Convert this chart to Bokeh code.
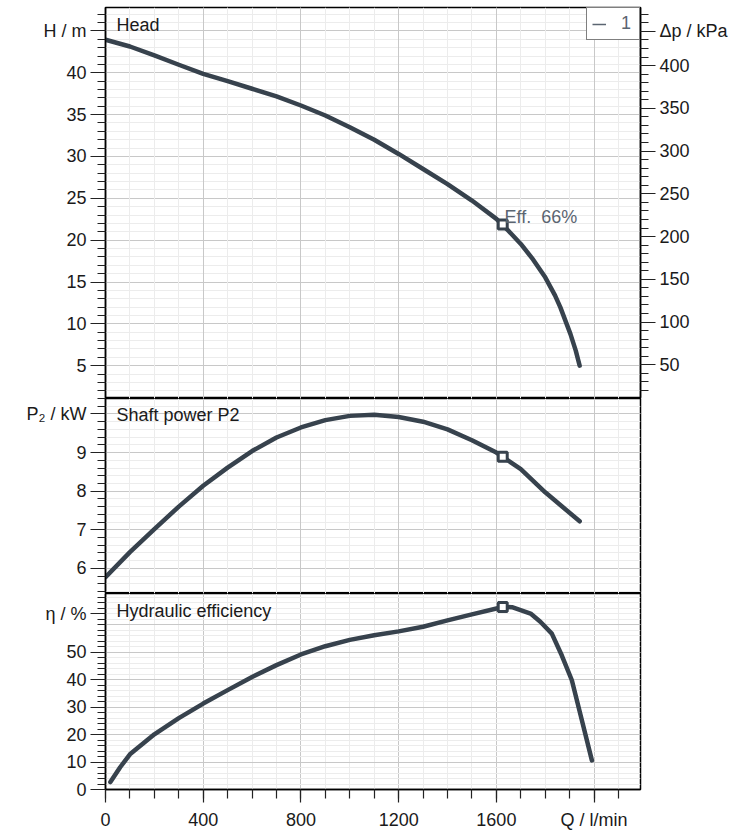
from bokeh.plotting import figure
from bokeh.models import Range1d, LinearAxis, FixedTicker, Grid, Label, Legend, LegendItem
from bokeh.layouts import column
from bokeh.embed import file_html
from bokeh.resources import INLINE

# ---------------- data ----------------
Q_head = [0, 100, 200, 300, 400, 500, 600, 700, 800, 900, 1000, 1100, 1200, 1300,
          1400, 1500, 1600, 1650, 1700, 1750, 1800, 1840, 1862, 1903, 1925, 1941]
H_head = [43.95, 43.14, 42.07, 40.96, 39.88, 39.0, 38.09, 37.17, 36.09, 34.9, 33.5,
          32.0, 30.3, 28.5, 26.7, 24.73, 22.54, 21.1, 19.55, 17.7, 15.56, 13.4, 11.97,
          8.8, 6.8, 5.0]

Q_power = [0, 100, 200, 300, 400, 500, 600, 700, 800, 900, 1000, 1100, 1200, 1300,
           1400, 1500, 1600, 1700, 1800, 1941]
P_power = [5.77, 6.42, 7.02, 7.60, 8.14, 8.61, 9.04, 9.39, 9.65, 9.84, 9.95, 9.98,
           9.92, 9.80, 9.60, 9.32, 9.00, 8.57, 7.97, 7.22]

Q_eff = [20, 60, 100, 200, 300, 400, 500, 600, 700, 800, 900, 1000, 1100, 1200, 1300,
         1400, 1500, 1626, 1664, 1740, 1780, 1827, 1868, 1909, 1950, 1991]
ETA = [2.7, 8.1, 12.8, 20.1, 26.0, 31.3, 36.2, 41.0, 45.3, 49.2, 52.2, 54.5, 56.2,
       57.6, 59.3, 61.6, 63.8, 66.5, 66.4, 64.1, 61.1, 56.8, 48.8, 39.8, 25.2, 10.6]

Q_bep = [1626]
H_bep = [21.86]
P_bep = [8.89]
ETA_bep = [66.5]
bep_label = "Eff.\u00a0 66%"
legend_label = "1"

KPA_PER_M = 9.79

X_MAJOR = [0, 400, 800, 1200, 1600, 2000]
X_MINOR = [100 * i for i in range(0, 22)]
X_LABELS = {2000: "Q / l/min"}
H_MAJOR = [5, 10, 15, 20, 25, 30, 35, 40, 45]
H_MINOR = list(range(1, 48))
H_LABELS = {45: "H / m"}
DP_MAJOR = [50, 100, 150, 200, 250, 300, 350, 400]
DP_MINOR = list(range(20, 470, 10))
DP_LABEL_AT = 440
DP_LABELS = {440: "Δp / kPa"}
P_MAJOR = [6, 7, 8, 9, 10]
P_MINOR = [round(5.4 + 0.2 * i, 1) for i in range(0, 26)]
P_LABELS = {10: "P₂ / kW"}
E_MAJOR = [0, 10, 20, 30, 40, 50, 60]
E_MINOR = list(range(0, 72, 2))
E_LABEL_AT = 64
E_LABELS = {64: "η / %"}

# ---------------- style ----------------
FONT = "Liberation Sans"
FS = "18px"
CURVE = "#37424d"
GRAYTXT = "#5b6571"
GRID_MAJ = "#c8c8c8"
GRID_MIN = "#ececec"
TXT = "#1a1a1a"

FRAME_LEFT = 105
FRAME_W = 535
X_END = 2190
SX = FRAME_W / X_END

x_range = Range1d(0, X_END)


def make_fig(frame_h, y_range, bottom_axis, top_border=0):
    p = figure(frame_width=FRAME_W, frame_height=frame_h, x_range=x_range, y_range=y_range,
               x_axis_location="below" if bottom_axis else None,
               y_axis_location="left", toolbar_location=None, output_backend="svg",
               min_border_left=FRAME_LEFT, min_border_right=105, min_border_top=top_border,
               min_border_bottom=0, title=None)
    p.outline_line_color = "black"
    p.outline_line_width = 1.5
    p.background_fill_color = "white"
    p.border_fill_color = "white"
    return p


def style_axis(ax, vertical=True):
    ax.axis_line_color = "black"
    ax.axis_line_width = 1.5
    ax.major_tick_line_color = "#222222"
    ax.minor_tick_line_color = "#222222"
    ax.major_tick_line_width = 1.2
    ax.minor_tick_line_width = 1.2
    ax.major_tick_in = 0
    ax.minor_tick_in = 0
    ax.major_tick_out = 15 if vertical else 13
    ax.minor_tick_out = 8 if vertical else 9
    ax.major_label_text_font = FONT
    ax.major_label_text_font_size = FS
    ax.major_label_text_color = TXT
    ax.major_label_standoff = 4 if vertical else 7


def style_grid(g):
    g.grid_line_color = GRID_MAJ
    g.grid_line_width = 1
    g.minor_grid_line_color = GRID_MIN
    g.minor_grid_line_width = 1


def add_xgrid(p):
    g = Grid(dimension=0, ticker=FixedTicker(ticks=X_MAJOR, minor_ticks=X_MINOR))
    style_grid(g)
    p.add_layout(g)


def label(p, x, y, text, color=TXT):
    p.add_layout(Label(x=x, y=y, text=text, text_font=FONT, text_font_size=FS,
                       text_color=color, text_align="left", text_baseline="alphabetic"))


def curve(p, xs, ys):
    p.line(xs, ys, line_color=CURVE, line_width=4.5, line_cap="round", line_join="round")


def bep(p, xs, ys):
    p.scatter(xs, ys, marker="square", size=9, fill_color="white", line_color=CURVE,
              line_width=3)


# ---------------- top: head ----------------
H_LO, H_HI = 1.08, 47.8
p1 = make_fig(391, Range1d(H_LO, H_HI), False, top_border=7)
p1.extra_y_ranges = {"dp": Range1d(H_LO * KPA_PER_M, H_HI * KPA_PER_M)}
p1.yaxis.ticker = FixedTicker(ticks=H_MAJOR, minor_ticks=H_MINOR)
p1.yaxis.major_label_overrides = H_LABELS
style_axis(p1.yaxis[0])
ax_r = LinearAxis(y_range_name="dp",
                  ticker=FixedTicker(ticks=DP_MAJOR + [DP_LABEL_AT], minor_ticks=DP_MINOR),
                  major_label_overrides=DP_LABELS)
style_axis(ax_r)
p1.add_layout(ax_r, "right")
p1.ygrid.ticker = FixedTicker(ticks=H_MAJOR, minor_ticks=H_MINOR)
style_grid(p1.ygrid[0])
add_xgrid(p1)
curve(p1, Q_head, H_head)
bep(p1, Q_bep, H_bep)
label(p1, (504 - FRAME_LEFT) / SX, 22.74, bep_label, color=GRAYTXT)
label(p1, (116 - FRAME_LEFT) / SX, 45.65, "Head")
leg_r = p1.line(x=Q_head[:1], y=H_head[:1], line_color=GRAYTXT, line_width=1.5)
legend = Legend(items=[LegendItem(label=legend_label, renderers=[leg_r])], location="top_right",
                margin=0, padding=5, spacing=0, glyph_width=14, glyph_height=18,
                label_height=18, label_width=13, label_standoff=15,
                border_line_color="black", border_line_width=1,
                background_fill_color="white", background_fill_alpha=1,
                label_text_font=FONT, label_text_font_size=FS, label_text_color=GRAYTXT)
p1.add_layout(legend)

# ---------------- middle: shaft power ----------------
p2 = make_fig(195, Range1d(5.35, 10.4), False)
p2.yaxis.ticker = FixedTicker(ticks=P_MAJOR, minor_ticks=P_MINOR)
p2.yaxis.major_label_overrides = P_LABELS
style_axis(p2.yaxis[0])
p2.ygrid.ticker = FixedTicker(ticks=P_MAJOR, minor_ticks=P_MINOR)
style_grid(p2.ygrid[0])
add_xgrid(p2)
curve(p2, Q_power, P_power)
bep(p2, Q_bep, P_bep)
label(p2, (116 - FRAME_LEFT) / SX, 9.96, "Shaft power P2")

# ---------------- bottom: efficiency ----------------
p3 = make_fig(196, Range1d(0, 71.4), True)
p3.yaxis.ticker = FixedTicker(ticks=[t for t in E_MAJOR if t != 60] + [E_LABEL_AT],
                              minor_ticks=E_MINOR)
p3.yaxis.major_label_overrides = E_LABELS
style_axis(p3.yaxis[0])
p3.xaxis.ticker = FixedTicker(ticks=X_MAJOR, minor_ticks=X_MINOR)
p3.xaxis.major_label_overrides = X_LABELS
style_axis(p3.xaxis[0], vertical=False)
p3.ygrid.ticker = FixedTicker(ticks=E_MAJOR, minor_ticks=E_MINOR)
style_grid(p3.ygrid[0])
p3.xgrid.ticker = FixedTicker(ticks=X_MAJOR, minor_ticks=X_MINOR)
style_grid(p3.xgrid[0])
curve(p3, Q_eff, ETA)
bep(p3, Q_bep, ETA_bep)
label(p3, (116 - FRAME_LEFT) / SX, 64.95, "Hydraulic efficiency")

layout = column(p1, p2, p3, spacing=0)
open("out.html", "w").write(file_html(layout, INLINE))
